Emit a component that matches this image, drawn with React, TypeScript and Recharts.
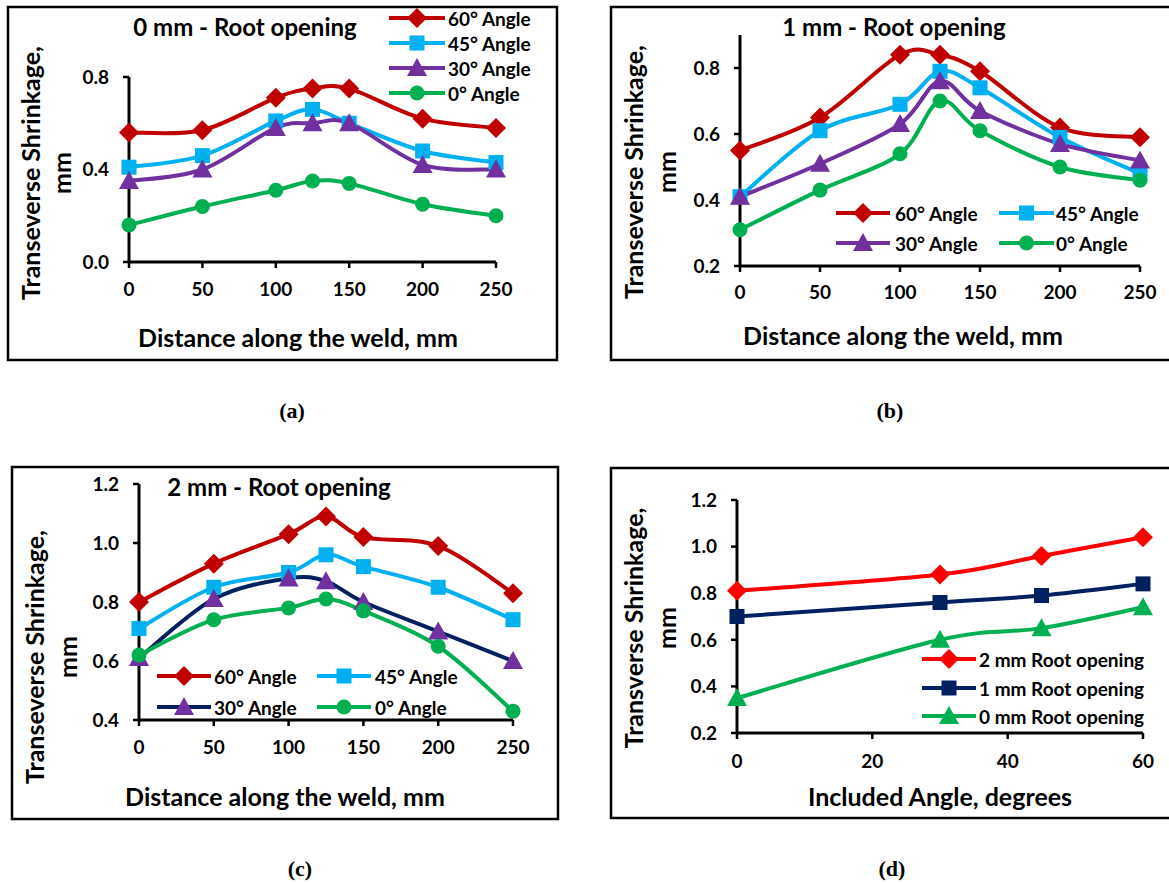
import { Line, LineChart, XAxis, YAxis } from "recharts";

// distance along the weld (mm) for panels a-c
const distance = [0, 50, 100, 125, 150, 200, 250];
const distanceTicks = [0, 50, 100, 150, 200, 250];
const angleNames = ["60° Angle", "45° Angle", "30° Angle", "0° Angle"];

// (a) 0 mm root opening
const a60 = [0.56, 0.57, 0.71, 0.75, 0.75, 0.62, 0.58];
const a45 = [0.41, 0.46, 0.61, 0.66, 0.6, 0.48, 0.43];
const a30 = [0.35, 0.4, 0.58, 0.6, 0.6, 0.42, 0.4];
const a0 = [0.16, 0.24, 0.31, 0.35, 0.34, 0.25, 0.2];
const ticksA = [0, 0.4, 0.8];

// (b) 1 mm root opening
const b60 = [0.55, 0.65, 0.84, 0.84, 0.79, 0.62, 0.59];
const b45 = [0.41, 0.61, 0.69, 0.79, 0.74, 0.59, 0.48];
const b30 = [0.41, 0.51, 0.63, 0.76, 0.67, 0.57, 0.52];
const b0 = [0.31, 0.43, 0.54, 0.7, 0.61, 0.5, 0.46];
const ticksB = [0.2, 0.4, 0.6, 0.8];

// (c) 2 mm root opening
const c60 = [0.8, 0.93, 1.03, 1.09, 1.02, 0.99, 0.83];
const c45 = [0.71, 0.85, 0.9, 0.96, 0.92, 0.85, 0.74];
const c30 = [0.61, 0.81, 0.88, 0.87, 0.8, 0.7, 0.6];
const c0 = [0.62, 0.74, 0.78, 0.81, 0.77, 0.65, 0.43];
const ticksC = [0.4, 0.6, 0.8, 1.0, 1.2];

// (d) shrinkage vs included angle
const includedAngle = [0, 30, 45, 60];
const angleTicks = [0, 20, 40, 60];
const rootNames = ["2 mm Root opening", "1 mm Root opening", "0 mm Root opening"];
const d2 = [0.81, 0.88, 0.96, 1.04];
const d1 = [0.7, 0.76, 0.79, 0.84];
const d0 = [0.35, 0.6, 0.65, 0.74];
const ticksD = [0.2, 0.4, 0.6, 0.8, 1.0, 1.2];

const FONT = "Lato, 'Noto Sans', sans-serif";

type Shape = "diamond" | "square" | "triangle" | "circle";
type Series = { name: string; values: number[]; stroke: string; fill: string; shape: Shape };
type Box = { x: number; y: number; w: number; h: number };
type Plot = { left: number; right: number; top: number; bottom: number };
type LegendPos = { x1: number; x2: number; tx: number; y: number };

// Excel style smoothed line (catmull-rom through every point)
const excelSmooth = (context: any) => {
  let pts: number[][] = [];
  return {
    areaStart() {},
    areaEnd() {},
    lineStart() {
      pts = [];
    },
    point(x: number, y: number) {
      pts.push([+x, +y]);
    },
    lineEnd() {
      if (!pts.length) return;
      context.moveTo(pts[0][0], pts[0][1]);
      for (let i = 0; i < pts.length - 1; i++) {
        const p0 = pts[i - 1] || pts[i];
        const p1 = pts[i];
        const p2 = pts[i + 1];
        const p3 = pts[i + 2] || p2;
        context.bezierCurveTo(
          p1[0] + (p2[0] - p0[0]) / 6,
          p1[1] + (p2[1] - p0[1]) / 6,
          p2[0] - (p3[0] - p1[0]) / 6,
          p2[1] - (p3[1] - p1[1]) / 6,
          p2[0],
          p2[1],
        );
      }
    },
  };
};

function Marker({ cx, cy, shape, fill }: { cx: number; cy: number; shape: Shape; fill: string }) {
  if (cx == null || cy == null) return null;
  if (shape === "diamond")
    return (
      <polygon
        points={`${cx},${cy - 10} ${cx + 10},${cy} ${cx},${cy + 10} ${cx - 10},${cy}`}
        fill={fill}
      />
    );
  if (shape === "square") return <rect x={cx - 7.5} y={cy - 7.5} width={15} height={15} fill={fill} />;
  if (shape === "triangle")
    return (
      <polygon
        points={`${cx},${cy - 10} ${cx + 10},${cy + 8} ${cx - 10},${cy + 8}`}
        fill={fill}
      />
    );
  return <circle cx={cx} cy={cy} r={7.5} fill={fill} />;
}

const tickStyle = { fontSize: 19, fontWeight: 700, fontFamily: FONT, fill: "#000" };

function Panel(props: {
  frame: Box;
  plot: Plot;
  xs: number[];
  series: Series[];
  xDomain: number[];
  xTicks: number[];
  yDomain: number[];
  yTicks: number[];
  xTickGap: number;
}) {
  const { frame, plot, xs, series } = props;
  const rows = xs.map((x, i) => {
    const r: { [k: string]: number } = { x };
    series.forEach((s, k) => (r["s" + k] = s.values[i]));
    return r;
  });
  return (
    <div style={{ position: "absolute", left: frame.x, top: frame.y }}>
      <LineChart
        width={frame.w}
        height={frame.h}
        data={rows}
        margin={{ top: plot.top - frame.y, right: frame.x + frame.w - plot.right, bottom: 0, left: 0 }}
      >
        <XAxis
          type="number"
          dataKey="x"
          domain={props.xDomain}
          ticks={props.xTicks}
          interval={0}
          height={frame.y + frame.h - plot.bottom}
          axisLine={{ stroke: "#000", strokeWidth: 3 }}
          tickLine={{ stroke: "#000", strokeWidth: 2.5 }}
          tickSize={6}
          tickMargin={props.xTickGap}
          tick={tickStyle}
        />
        <YAxis
          type="number"
          domain={props.yDomain}
          ticks={props.yTicks}
          interval={0}
          width={plot.left - frame.x}
          axisLine={{ stroke: "#000", strokeWidth: 3 }}
          tickLine={{ stroke: "#000", strokeWidth: 2.5 }}
          tickSize={6}
          tickMargin={14}
          tick={tickStyle}
          tickFormatter={(v: number) => v.toFixed(1)}
        />
        {series.map((s, k) => (
          <Line
            key={s.name}
            dataKey={"s" + k}
            name={s.name}
            type={excelSmooth as any}
            stroke={s.stroke}
            strokeWidth={4}
            dot={(p: any) => <Marker key={"m" + k + "-" + p.index} cx={p.cx} cy={p.cy} shape={s.shape} fill={s.fill} />}
            activeDot={false}
            isAnimationActive={false}
          />
        ))}
      </LineChart>
    </div>
  );
}

function Legend({ series, pos }: { series: Series[]; pos: LegendPos[] }) {
  return (
    <g>
      {series.map((s, i) => {
        const p = pos[i];
        return (
          <g key={s.name}>
            <line x1={p.x1} x2={p.x2} y1={p.y} y2={p.y} stroke={s.stroke} strokeWidth={4} />
            <Marker cx={(p.x1 + p.x2) / 2} cy={p.y} shape={s.shape} fill={s.fill} />
            <text x={p.tx} y={p.y} dominantBaseline="central" fontSize={19} fontWeight={700} fontFamily={FONT}>
              {s.name}
            </text>
          </g>
        );
      })}
    </g>
  );
}

function YTitle({ x, y, x2, text }: { x: number; y: number; x2: number; text: string }) {
  return (
    <g fontSize={25} fontWeight={700} fontFamily={FONT} textAnchor="middle">
      <text transform={`translate(${x},${y}) rotate(-90)`}>{text}</text>
      <text transform={`translate(${x2},${y}) rotate(-90)`}>mm</text>
    </g>
  );
}

const RED = "#C00000";
const SKY = "#00B0F0";
const PURPLE = "#7030A0";
const GREEN = "#00B050";
const NAVY = "#002060";

const angleSeries = (v60: number[], v45: number[], v30: number[], v0: number[], line30 = PURPLE): Series[] => [
  { name: angleNames[0], values: v60, stroke: RED, fill: RED, shape: "diamond" },
  { name: angleNames[1], values: v45, stroke: SKY, fill: SKY, shape: "square" },
  { name: angleNames[2], values: v30, stroke: line30, fill: PURPLE, shape: "triangle" },
  { name: angleNames[3], values: v0, stroke: GREEN, fill: GREEN, shape: "circle" },
];

const seriesA = angleSeries(a60, a45, a30, a0);
const seriesB = angleSeries(b60, b45, b30, b0);
const seriesC = angleSeries(c60, c45, c30, c0, NAVY);
const seriesD: Series[] = [
  { name: rootNames[0], values: d2, stroke: "#FF0000", fill: "#FF0000", shape: "diamond" },
  { name: rootNames[1], values: d1, stroke: NAVY, fill: NAVY, shape: "square" },
  { name: rootNames[2], values: d0, stroke: GREEN, fill: GREEN, shape: "triangle" },
];

const frameA = { x: 8, y: 7, w: 549, h: 353 };
const frameB = { x: 611, y: 7, w: 563, h: 353 };
const frameC = { x: 12, y: 467, w: 546, h: 352 };
const frameD = { x: 611, y: 468, w: 563, h: 350 };

export default function App() {
  const titleProps = { fontSize: 24, fontWeight: 700, fontFamily: FONT, textAnchor: "middle" as const };
  const axisTitle = { ...titleProps, fontSize: 25 };
  const capProps = { fontSize: 22, fontWeight: 700, fontFamily: "'Liberation Serif', 'Times New Roman', serif", textAnchor: "middle" as const };
  return (
    <div style={{ position: "absolute", left: 0, top: 0, width: 1169, height: 883, background: "#fff", overflow: "hidden" }}>
      <Panel
        frame={frameA}
        plot={{ left: 129, right: 496, top: 77, bottom: 262 }}
        xs={distance}
        series={seriesA}
        xDomain={[0, 250]}
        xTicks={distanceTicks}
        yDomain={[0, 0.8]}
        yTicks={ticksA}
        xTickGap={15}
      />
      <Panel
        frame={frameB}
        plot={{ left: 740, right: 1140, top: 35, bottom: 266 }}
        xs={distance}
        series={seriesB}
        xDomain={[0, 250]}
        xTicks={distanceTicks}
        yDomain={[0.2, 0.9]}
        yTicks={ticksB}
        xTickGap={14}
      />
      <Panel
        frame={frameC}
        plot={{ left: 139, right: 513, top: 484, bottom: 720 }}
        xs={distance}
        series={seriesC}
        xDomain={[0, 250]}
        xTicks={distanceTicks}
        yDomain={[0.4, 1.2]}
        yTicks={ticksC}
        xTickGap={15}
      />
      <Panel
        frame={frameD}
        plot={{ left: 737, right: 1143, top: 500, bottom: 733 }}
        xs={includedAngle}
        series={seriesD}
        xDomain={[0, 60]}
        xTicks={angleTicks}
        yDomain={[0.2, 1.2]}
        yTicks={ticksD}
        xTickGap={16}
      />
      <svg width={1169} height={883} style={{ position: "absolute", left: 0, top: 0, pointerEvents: "none" }}>
        {[frameA, frameB, frameC, frameD].map((f, i) => (
          <rect key={i} x={f.x} y={f.y} width={f.w} height={f.h} fill="none" stroke="#000" strokeWidth={2.5} />
        ))}

        <text x={245} y={36} {...titleProps}>0 mm - Root opening</text>
        <text x={894} y={36} {...titleProps}>1 mm - Root opening</text>
        <text x={279} y={496} {...titleProps}>2 mm - Root opening</text>

        <text x={298} y={347} {...axisTitle}>Distance along the weld, mm</text>
        <text x={903} y={345} {...axisTitle}>Distance along the weld, mm</text>
        <text x={285} y={806} {...axisTitle}>Distance along the weld, mm</text>
        <text x={940} y={806} {...axisTitle}>Included Angle, degrees</text>

        <YTitle x={40} x2={71} y={173} text="Transeverse Shrinkage," />
        <YTitle x={643} x2={676} y={172} text="Transeverse Shrinkage," />
        <YTitle x={44} x2={77} y={657} text="Transeverse Shrinkage," />
        <YTitle x={643} x2={676} y={628} text="Transverse Shrinkage," />

        <Legend
          series={seriesA}
          pos={[
            { x1: 389, x2: 445, tx: 448, y: 18 },
            { x1: 389, x2: 445, tx: 448, y: 43 },
            { x1: 389, x2: 445, tx: 448, y: 68 },
            { x1: 389, x2: 445, tx: 448, y: 93 },
          ]}
        />
        <Legend
          series={seriesB}
          pos={[
            { x1: 836, x2: 890, tx: 895, y: 213 },
            { x1: 999, x2: 1054, tx: 1056, y: 213 },
            { x1: 836, x2: 890, tx: 895, y: 243 },
            { x1: 999, x2: 1054, tx: 1056, y: 243 },
          ]}
        />
        <Legend
          series={seriesC}
          pos={[
            { x1: 157, x2: 211, tx: 214, y: 676 },
            { x1: 317, x2: 371, tx: 375, y: 676 },
            { x1: 157, x2: 211, tx: 214, y: 707 },
            { x1: 317, x2: 371, tx: 375, y: 707 },
          ]}
        />
        <Legend
          series={seriesD}
          pos={[
            { x1: 922, x2: 976, tx: 979, y: 659 },
            { x1: 922, x2: 976, tx: 979, y: 688 },
            { x1: 922, x2: 976, tx: 979, y: 716 },
          ]}
        />

        <text x={292} y={418} {...capProps}>(a)</text>
        <text x={890} y={418} {...capProps}>(b)</text>
        <text x={300} y={876} {...capProps}>(c)</text>
        <text x={892} y={876} {...capProps}>(d)</text>
      </svg>
    </div>
  );
}
